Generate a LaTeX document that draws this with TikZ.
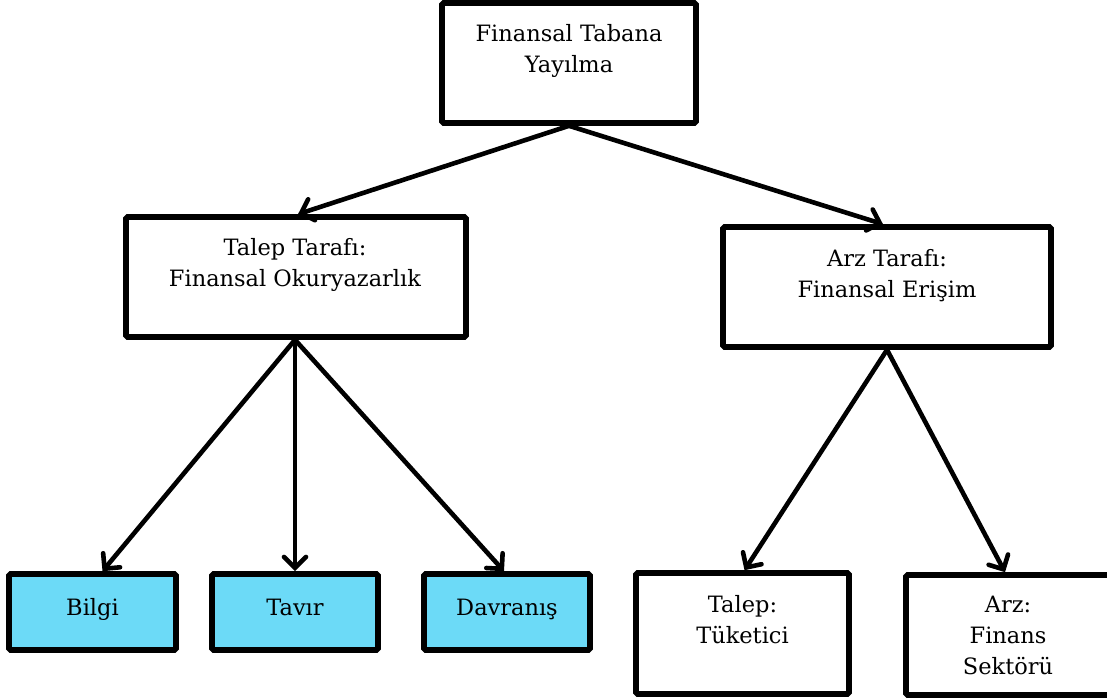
\documentclass[tikz,border=0pt]{standalone}
\usepackage{fontspec}
\setmainfont{DejaVu Serif}
\usetikzlibrary{arrows.meta}
\definecolor{boxcyan}{RGB}{108,218,247}
\tikzset{
  box/.style={draw=black, line width=5.6pt, rounded corners=1.5pt, inner sep=0pt},
  cbox/.style={box, fill=boxcyan},
  lbl/.style={anchor=base, align=center, inner sep=0pt, font=\fontsize{22.5}{31}\selectfont},
  arr/.style={line width=4.6pt, line cap=round, -{Straight Barb[length=11pt,width=22pt,line cap=round]}}
}
\begin{document}
\begin{tikzpicture}[x=1pt,y=-1pt]
\useasboundingbox (0,0) rectangle (1107,699);
% boxes
\node[box, minimum width=254pt, minimum height=120pt] (top) at (569,63) {};
\node[box, minimum width=340pt, minimum height=120pt] (talep) at (296,277) {};
\node[box, minimum width=328pt, minimum height=120pt] (arz) at (887,287) {};
\node[cbox, minimum width=167pt, minimum height=76pt] (bilgi) at (92.5,612) {};
\node[cbox, minimum width=166pt, minimum height=76pt] (tavir) at (295,612) {};
\node[cbox, minimum width=166pt, minimum height=76pt] (davranis) at (507,612) {};
\node[box, minimum width=213pt, minimum height=121pt] (tuketici) at (742.5,633.5) {};
\node[box, minimum width=204pt, minimum height=120pt] (sektor) at (1008,635) {};
% texts (anchored at the baseline of the last line)
\node[lbl] (topt) at (569,72.5) {Finansal Tabana\\Yayılma};
\node[lbl] (talept) at (295,286) {Talep Tarafı:\\Finansal Okuryazarlık};
\node[lbl] (arzt) at (887,297) {Arz Tarafı:\\Finansal Erişim};
\node[lbl] (bilgit) at (92.5,615) {Bilgi};
\node[lbl] (tavirt) at (295,615) {Tavır};
\node[lbl] (davranist) at (507,615) {Davranış};
\node[lbl] (tuketicit) at (742.5,643) {Talep:\\Tüketici};
\node[lbl] (sektort) at (1008,674) {Arz:\\Finans\\Sektörü};
% connectors
\draw[arr] (top.south) -- ([xshift=2pt]talep.north);
\draw[arr] (top.south) -- ([xshift=-4pt]arz.north);
\draw[arr] (talep.south -| tavir.north) -- ([xshift=10pt]bilgi.north);
\draw[arr] (talep.south -| tavir.north) -- (tavir.north);
\draw[arr] (talep.south -| tavir.north) -- ([xshift=-3pt]davranis.north);
\draw[arr] (arz.south) -- ([xshift=2pt]tuketici.north);
\draw[arr] (arz.south) -- ([xshift=-3pt]sektor.north);
\end{tikzpicture}
\end{document}
